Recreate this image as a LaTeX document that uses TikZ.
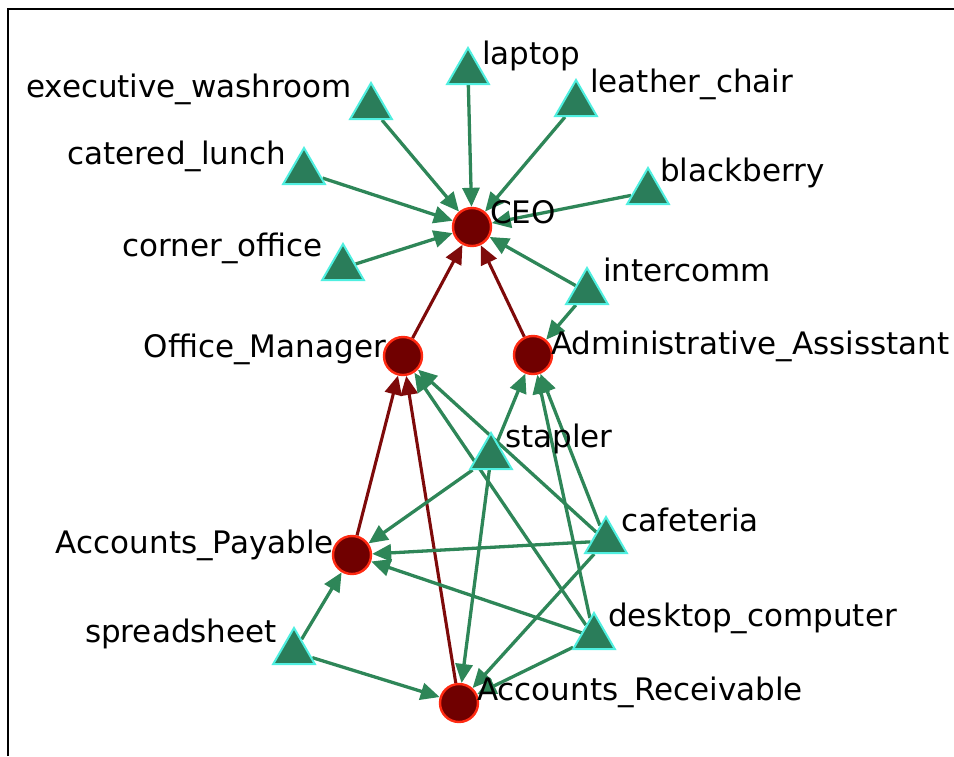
\documentclass[tikz,border=0pt]{standalone}
\usepackage{fontspec}
\setmainfont{DejaVu Sans}
\usetikzlibrary{arrows.meta,shapes.geometric,backgrounds}
\definecolor{agentfill}{HTML}{700000}
\definecolor{agentline}{HTML}{FF2A12}
\definecolor{resfill}{HTML}{2A7D5A}
\definecolor{resline}{HTML}{4FEFE0}
\definecolor{gline}{HTML}{2E8658}
\definecolor{rline}{HTML}{7E0A0A}
\tikzset{
  agent/.style={circle,fill=agentfill,draw=agentline,line width=2.4pt,minimum size=38pt,inner sep=0pt},
  res/.style={regular polygon,regular polygon sides=3,fill=resfill,draw=resline,line width=2pt,minimum size=48pt,inner sep=0pt},
  lbl/.style={font=\fontsize{31}{37}\selectfont,text=black,inner sep=0pt},
  gedge/.style={draw=gline,line width=3.3pt,-{Triangle[length=19pt,width=17pt]}},
  redge/.style={draw=rline,line width=3.1pt,-{Triangle[length=19pt,width=17pt]}},
  frame/.style={draw=black,line width=2.5pt}
}
\begin{document}
\begin{tikzpicture}[x=1pt,y=-1pt]
\useasboundingbox (0,0) rectangle (954,756);
\draw[frame] (8,756) -- (8,9) -- (954,9);
% agents
\node[agent] (ceo) at (472,227) {};
\node[agent] (om) at (403,356) {};
\node[agent] (aa) at (533,355) {};
\node[agent] (ap) at (352,555) {};
\node[agent] (ar) at (459,703) {};
% resources
\node[res] (laptop) at (468,72) {};
\node[res] (exec) at (371,107) {};
\node[res] (leather) at (576,104) {};
\node[res] (catered) at (304,172) {};
\node[res] (blackberry) at (648,192) {};
\node[res] (corner) at (343,268) {};
\node[res] (intercomm) at (587,292) {};
\node[res] (stapler) at (491,457) {};
\node[res] (cafeteria) at (606,541) {};
\node[res] (desktop) at (594,637) {};
\node[res] (spreadsheet) at (294,652) {};
% edges
\begin{pgfonlayer}{background}
\draw[gedge] (laptop) -- (ceo);
\draw[gedge] (exec) -- (ceo);
\draw[gedge] (leather) -- (ceo);
\draw[gedge] (catered) -- (ceo);
\draw[gedge] (blackberry) -- (ceo);
\draw[gedge] (corner) -- (ceo);
\draw[gedge] (intercomm) -- (ceo);
\draw[gedge] (intercomm) -- (aa);
\draw[redge] (om) -- (ceo);
\draw[redge] (aa) -- (ceo);
\draw[redge] (ap) -- (om);
\draw[redge] (ar) -- (om);
\draw[gedge] (stapler) -- (aa);
\draw[gedge] (stapler) -- (ap);
\draw[gedge] (stapler) -- (ar);
\draw[gedge] (cafeteria) -- (om);
\draw[gedge] (cafeteria) -- (aa);
\draw[gedge] (cafeteria) -- (ap);
\draw[gedge] (cafeteria) -- (ar);
\draw[gedge] (desktop) -- (om);
\draw[gedge] (desktop) -- (aa);
\draw[gedge] (desktop) -- (ap);
\draw[gedge] (desktop) -- (ar);
\draw[gedge] (spreadsheet) -- (ap);
\draw[gedge] (spreadsheet) -- (ar);
\end{pgfonlayer}
% labels
\node[lbl,anchor=base east] (l-exec) at (352,97) {executive\_washroom};
\node[lbl,anchor=base west] (l-laptop) at (482,64) {laptop};
\node[lbl,anchor=base west] (l-leather) at (590,92) {leather\_chair};
\node[lbl,anchor=base east] (l-catered) at (286,164) {catered\_lunch};
\node[lbl,anchor=base west] (l-blackberry) at (660,181) {blackberry};
\node[lbl,anchor=base west] (l-ceo) at (490,223) {CEO};
\node[lbl,anchor=base east] (l-corner) at (323,256) {corner\_office};
\node[lbl,anchor=base west] (l-intercomm) at (603,281) {intercomm};
\node[lbl,anchor=base east] (l-om) at (386,357) {Office\_Manager};
\node[lbl,anchor=base west] (l-aa) at (551,354) {Administrative\_Assisstant};
\node[lbl,anchor=base west] (l-stapler) at (505,447) {stapler};
\node[lbl,anchor=base west] (l-cafeteria) at (621,531) {cafeteria};
\node[lbl,anchor=base east] (l-ap) at (334,553) {Accounts\_Payable};
\node[lbl,anchor=base west] (l-desktop) at (608,626) {desktop\_computer};
\node[lbl,anchor=base east] (l-spreadsheet) at (277,642) {spreadsheet};
\node[lbl,anchor=base west] (l-ar) at (477,700) {Accounts\_Receivable};
\end{tikzpicture}
\end{document}
